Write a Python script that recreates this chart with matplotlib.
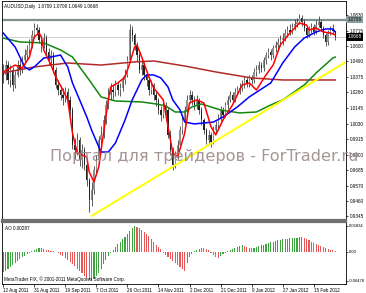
import numpy as np
import matplotlib
matplotlib.use("Agg")
import matplotlib.pyplot as plt

# --- Data ---
closes = [
    1.0388, 1.0461, 1.0351, 1.0425, 1.0314, 1.0388, 1.0461, 1.0425, 1.0498, 1.0535,
    1.0572, 1.0609, 1.0683, 1.0734, 1.0719, 1.0646, 1.0609, 1.0660, 1.0557, 1.0498,
    1.0535, 1.0425, 1.0314, 1.0277, 1.0240, 1.0218, 1.0262, 1.0204, 1.0130, 0.9872,
    0.9835, 0.9909, 0.9761, 0.9835, 0.9724, 0.9614, 0.9467, 0.9540, 0.9688, 0.9761,
    0.9909, 0.9946, 1.0056, 1.0167, 1.0240, 1.0277, 1.0262, 1.0314, 1.0277, 1.0292,
    1.0351, 1.0388, 1.0498, 1.0719, 1.0683, 1.0609, 1.0535, 1.0425, 1.0461, 1.0388,
    1.0351, 1.0277, 1.0314, 1.0240, 1.0204, 1.0130, 1.0093, 1.0167, 1.0130, 0.9946,
    0.9835, 0.9724, 0.9798, 0.9872, 0.9982, 1.0056, 1.0130, 1.0204, 1.0240, 1.0204,
    1.0167, 1.0204, 1.0130, 1.0056, 0.9982, 0.9909, 0.9946, 0.9894, 0.9982, 1.0019,
    1.0071, 1.0130, 1.0093, 1.0167, 1.0204, 1.0240, 1.0204, 1.0262, 1.0277, 1.0292,
    1.0314, 1.0351, 1.0322, 1.0366, 1.0351, 1.0410, 1.0425, 1.0461, 1.0439, 1.0498,
    1.0535, 1.0557, 1.0535, 1.0587, 1.0609, 1.0631, 1.0646, 1.0660, 1.0697, 1.0719,
    1.0705, 1.0742, 1.0764, 1.0778, 1.0808, 1.0778, 1.0734, 1.0683, 1.0719, 1.0742,
    1.0705, 1.0756, 1.0778, 1.0734, 1.0683, 1.0631, 1.0697, 1.0719, 1.0709, 1.0668,
]
first_open = 1.0420
highs = [
    1.0470, 1.0495, 1.0490, 1.0460, 1.0450, 1.0420, 1.0500, 1.0510, 1.0530, 1.0580,
    1.0610, 1.0650, 1.0720, 1.0770, 1.0765, 1.0740, 1.0670, 1.0700, 1.0680, 1.0590,
    1.0570, 1.0560, 1.0450, 1.0350, 1.0310, 1.0290, 1.0300, 1.0290, 1.0230, 1.0150,
    0.9920, 0.9960, 0.9930, 0.9880, 0.9860, 0.9750, 0.9630, 0.9600, 0.9720, 0.9800,
    0.9940, 1.0010, 1.0090, 1.0200, 1.0290, 1.0330, 1.0320, 1.0350, 1.0340, 1.0330,
    1.0380, 1.0430, 1.0530, 1.0760, 1.0750, 1.0700, 1.0630, 1.0560, 1.0500, 1.0480,
    1.0420, 1.0370, 1.0350, 1.0330, 1.0270, 1.0220, 1.0160, 1.0200, 1.0190, 1.0150,
    0.9980, 0.9860, 0.9830, 0.9910, 1.0010, 1.0090, 1.0160, 1.0240, 1.0280, 1.0270,
    1.0230, 1.0240, 1.0220, 1.0150, 1.0070, 1.0000, 0.9980, 0.9970, 1.0010, 1.0050,
    1.0100, 1.0160, 1.0150, 1.0190, 1.0230, 1.0270, 1.0260, 1.0290, 1.0310, 1.0330,
    1.0350, 1.0380, 1.0370, 1.0390, 1.0390, 1.0440, 1.0460, 1.0490, 1.0480, 1.0520,
    1.0560, 1.0590, 1.0580, 1.0610, 1.0640, 1.0660, 1.0680, 1.0700, 1.0730, 1.0750,
    1.0760, 1.0770, 1.0800, 1.0810, 1.0840, 1.0830, 1.0800, 1.0750, 1.0750, 1.0770,
    1.0760, 1.0790, 1.0820, 1.0790, 1.0750, 1.0700, 1.0720, 1.0750, 1.0760, 1.0709,
]
lows = [
    1.0330, 1.0350, 1.0320, 1.0300, 1.0270, 1.0290, 1.0370, 1.0390, 1.0400, 1.0470,
    1.0500, 1.0540, 1.0590, 1.0660, 1.0690, 1.0620, 1.0560, 1.0590, 1.0530, 1.0460,
    1.0470, 1.0400, 1.0290, 1.0240, 1.0200, 1.0170, 1.0190, 1.0160, 1.0090, 0.9840,
    0.9770, 0.9800, 0.9720, 0.9700, 0.9690, 0.9570, 0.9380, 0.9420, 0.9510, 0.9650,
    0.9730, 0.9870, 0.9920, 1.0030, 1.0140, 1.0200, 1.0210, 1.0230, 1.0240, 1.0230,
    1.0270, 1.0320, 1.0370, 1.0480, 1.0640, 1.0570, 1.0490, 1.0400, 1.0390, 1.0350,
    1.0310, 1.0240, 1.0250, 1.0200, 1.0160, 1.0100, 1.0050, 1.0070, 1.0090, 0.9920,
    0.9800, 0.9690, 0.9700, 0.9770, 0.9850, 0.9950, 1.0030, 1.0110, 1.0180, 1.0170,
    1.0130, 1.0140, 1.0100, 1.0020, 0.9950, 0.9880, 0.9880, 0.9860, 0.9880, 0.9960,
    1.0000, 1.0050, 1.0070, 1.0080, 1.0140, 1.0190, 1.0180, 1.0190, 1.0240, 1.0250,
    1.0270, 1.0290, 1.0300, 1.0300, 1.0320, 1.0330, 1.0380, 1.0400, 1.0410, 1.0420,
    1.0470, 1.0510, 1.0500, 1.0510, 1.0560, 1.0580, 1.0600, 1.0610, 1.0640, 1.0670,
    1.0680, 1.0690, 1.0720, 1.0740, 1.0760, 1.0750, 1.0710, 1.0660, 1.0670, 1.0700,
    1.0680, 1.0690, 1.0740, 1.0710, 1.0660, 1.0600, 1.0610, 1.0680, 1.0690, 1.0649,
]

# moving averages, sampled along the curves (bar index, price)
ma_fast_x = [0, 5, 8, 11, 13, 15, 16, 17, 20, 22, 25, 27, 29, 31, 33, 35, 36, 38, 40, 41,
             43, 44, 45, 48, 51, 53, 55, 56, 58, 61, 63, 66, 67, 69, 71, 73, 76, 78, 81,
             84, 87, 89, 92, 96, 100, 103, 106, 110, 113, 116, 120, 124, 127, 128, 131,
             134, 137, 139]
ma_fast_y = [1.0410, 1.0461, 1.0439, 1.0520, 1.0668, 1.0697, 1.0668, 1.0572, 1.0461,
             1.0373, 1.0277, 1.0204, 0.9960, 0.9813, 0.9798, 0.9783, 0.9673, 0.9599,
             0.9710, 0.9835, 1.0078, 1.0204, 1.0299, 1.0329, 1.0373, 1.0476, 1.0594,
             1.0609, 1.0520, 1.0373, 1.0292, 1.0226, 1.0204, 1.0005, 0.9813, 0.9783,
             0.9960, 1.0182, 1.0204, 1.0182, 1.0005, 0.9946, 1.0056, 1.0167, 1.0314,
             1.0329, 1.0277, 1.0388, 1.0461, 1.0609, 1.0697, 1.0771, 1.0756, 1.0719,
             1.0734, 1.0705, 1.0697, 1.0683]
ma_mid_x = [0, 5, 9, 11, 13, 17, 20, 24, 27, 29, 32, 35, 37, 40, 41, 44, 47, 51, 54, 56,
            58, 60, 63, 66, 69, 71, 74, 76, 80, 84, 88, 92, 98, 103, 112, 117, 122, 126,
            131, 135, 138, 139]
ma_mid_y = [1.0697, 1.0594, 1.0447, 1.0425, 1.0447, 1.0513, 1.0520, 1.0535, 1.0447,
            1.0329, 1.0204, 1.0078, 0.9982, 0.9858, 0.9820, 0.9820, 0.9887, 1.0056,
            1.0204, 1.0277, 1.0351, 1.0388, 1.0388, 1.0366, 1.0299, 1.0204, 1.0130,
            1.0041, 1.0027, 1.0034, 1.0041, 1.0078, 1.0152, 1.0226, 1.0329, 1.0476,
            1.0594, 1.0660, 1.0705, 1.0727, 1.0727, 1.0705]
ma_slow_x = [0, 7, 17, 24, 29, 32, 36, 41, 47, 58, 64, 68, 72, 76, 79, 83, 87, 91, 99,
             106, 112, 117, 126, 131, 138, 139]
ma_slow_y = [1.0660, 1.0631, 1.0624, 1.0572, 1.0520, 1.0447, 1.0351, 1.0226, 1.0196,
             1.0189, 1.0174, 1.0160, 1.0115, 1.0115, 1.0152, 1.0174, 1.0152, 1.0130,
             1.0108, 1.0115, 1.0167, 1.0204, 1.0314, 1.0403, 1.0513, 1.0520]
ma_long_x = [0, 13, 27, 41, 55, 63, 76, 89, 104, 117, 139]
ma_long_y = [1.0403, 1.0447, 1.0476, 1.0461, 1.0484, 1.0491, 1.0454, 1.0410, 1.0366,
             1.0351, 1.0351]

trend_x = [37, 143.5]
trend_y = [0.9349, 1.0484]

level_line = 1.0796
bid = 1.0668

price_ticks = [1.0830, 1.0715, 1.0600, 1.0490, 1.0375, 1.0260, 1.0145, 1.0030,
               0.9915, 0.9800, 0.9685, 0.9570, 0.9460, 0.9345]
price_labels = ["1.0830", "1.0715", "1.0600", "1.0490", "1.0375", "1.0260", "1.0145",
                "1.0030", "0.9915", "0.9800", "0.9685", "0.9570", "0.9460", "0.9345"]

ao = [
    -0.0448, -0.0426, -0.0381, -0.0336, -0.0291, -0.0246, -0.0202, -0.0157, -0.0112, -0.0090,
    -0.0045, -0.0022, 0.0022, 0.0045, 0.0067, 0.0090, 0.0081, 0.0067, 0.0045, 0.0034,
    0.0022, 0.0011, -0.0011, -0.0034, -0.0067, -0.0101, -0.0134, -0.0179, -0.0224, -0.0269,
    -0.0314, -0.0381, -0.0426, -0.0470, -0.0540, -0.0585, -0.0620, -0.0648, -0.0610, -0.0540,
    -0.0460, -0.0370, -0.0280, -0.0190, -0.0100, -0.0030, 0.0045, 0.0110, 0.0180, 0.0230,
    0.0290, 0.0340, 0.0400, 0.0470, 0.0530, 0.0583, 0.0560, 0.0535, 0.0495, 0.0450,
    0.0405, 0.0360, 0.0295, 0.0225, 0.0160, 0.0110, 0.0065, -0.0020, -0.0067, -0.0112,
    -0.0157, -0.0202, -0.0246, -0.0291, -0.0336, -0.0381, -0.0426, -0.0250, -0.0112, -0.0045,
    0.0022, 0.0045, 0.0067, 0.0095, 0.0090, 0.0067, 0.0034, -0.0022, -0.0067, -0.0112,
    -0.0134, -0.0090, -0.0056, -0.0022, 0.0022, 0.0045, 0.0067, 0.0090, 0.0112, 0.0134,
    0.0157, 0.0134, 0.0112, 0.0090, 0.0078, 0.0090, 0.0112, 0.0134, 0.0146, 0.0157,
    0.0179, 0.0202, 0.0213, 0.0224, 0.0246, 0.0258, 0.0269, 0.0280, 0.0291, 0.0296,
    0.0302, 0.0307, 0.0314, 0.0318, 0.0323, 0.0327, 0.0314, 0.0291, 0.0258, 0.0224,
    0.0202, 0.0179, 0.0157, 0.0123, 0.0101, 0.0078, 0.0056, 0.0045, 0.0034, 0.00287,
]
ao_ticks = [0.05834, 0.0, -0.06478]
ao_labels = ["0.05834", "0.00", "-0.06478"]

date_pos = [0, 13, 26, 39, 52, 65, 78, 91, 104, 117, 130]
date_labels = ["12 Aug 2011", "31 Aug 2011", "19 Sep 2011", "7 Oct 2011", "26 Oct 2011",
               "14 Nov 2011", "2 Dec 2011", "21 Dec 2011", "9 Jan 2012", "27 Jan 2012",
               "15 Feb 2012"]

# --- Figure ---
plt.rcParams["font.family"] = ["Liberation Sans", "DejaVu Sans"]
FS = 3.3
W, H = 366, 293
fig = plt.figure(figsize=(W / 100, H / 100), dpi=100)
ax = fig.add_axes([2 / W, 1 - 220 / H, 344 / W, 219 / H])
ax2 = fig.add_axes([2 / W, 1 - 284 / H, 344 / W, 62 / H])

n = len(closes)
idx = np.arange(n)
opens = [first_open] + closes[:-1]

# candles
ax.vlines(idx, lows, highs, color="#404040", lw=0.6, zorder=2)
body_lo = np.minimum(opens, closes)
body_h = np.abs(np.array(closes) - np.array(opens))
body_col = ["#909090" if c >= o else "#202020" for o, c in zip(opens, closes)]
ax.bar(idx, body_h, bottom=body_lo, width=0.55, color=body_col, lw=0, zorder=2)

ax.plot(ma_long_x, ma_long_y, color="#b22a2a", lw=1.1, zorder=3)
ax.plot(ma_slow_x, ma_slow_y, color="#118811", lw=1.1, zorder=3)
ax.plot(ma_mid_x, ma_mid_y, color="#0000ff", lw=1.1, zorder=4)
ax.plot(ma_fast_x, ma_fast_y, color="#ff0000", lw=1.1, zorder=5)
ax.plot(trend_x, trend_y, color="#ffff00", lw=1.4, zorder=3)

ax.axhline(level_line, color="#7f9090", lw=1.6, zorder=1)
ax.axhline(bid, color="#c8c8c8", lw=0.6, zorder=1)

ax.set_xlim(-0.5, 143.5)
ax.set_ylim(0.9319, 1.0933)
ax.set_xticks([])
ax.yaxis.tick_right()
ax.set_yticks(price_ticks)
ax.set_yticklabels(price_labels)
ax.tick_params(axis="y", labelsize=FS, length=1.5, width=0.5, pad=1.0, colors="black")

for s in ["left", "right", "top"]:
    ax.spines[s].set_linewidth(0.6)
ax.spines["bottom"].set_color("#707070")
ax.spines["bottom"].set_linewidth(1.6)

# highlighted price labels
ax.text(1.004, level_line, "1.0796", transform=ax.get_yaxis_transform(), fontsize=FS,
        va="center", ha="left", color="black",
        bbox=dict(boxstyle="square,pad=0.25", fc="#8c9c9c", ec="none"))
ax.text(1.004, bid, "1.0668", transform=ax.get_yaxis_transform(), fontsize=FS,
        va="center", ha="left", color="white",
        bbox=dict(boxstyle="square,pad=0.25", fc="black", ec="none"))

ax.text(0.006, 0.985, "AUDUSD,Daily  1.0709 1.0709 1.0649 1.0668", transform=ax.transAxes,
        fontsize=FS, va="top", ha="left")

# watermark
fig.text(50 / W, 1 - 156 / H, "Портал для трейдеров - ForTrader.ru", fontsize=11.6,
         family="DejaVu Sans", color="#9c8a8a", alpha=0.9, va="center", ha="left", zorder=10)

# --- AO panel ---
ao_arr = np.array(ao)
diff = np.diff(ao_arr, prepend=ao_arr[0] - 1)
ao_col = ["#3ea43e" if d > 0 else "#e85656" for d in diff]
ax2.bar(idx, ao_arr, width=0.45, color=ao_col, lw=0)
ax2.set_xlim(-0.5, 143.5)
ax2.set_ylim(-0.0715, 0.0665)
ax2.yaxis.tick_right()
ax2.set_yticks(ao_ticks)
ax2.set_yticklabels(ao_labels)
ax2.tick_params(axis="y", labelsize=3.0, length=1.5, width=0.5, pad=0.6)
ax2.set_xticks(date_pos)
ax2.set_xticklabels(date_labels, ha="left")
ax2.tick_params(axis="x", labelsize=FS, length=2, width=0.5, pad=0.8)
for s in ["left", "right", "bottom"]:
    ax2.spines[s].set_linewidth(0.6)
ax2.spines["top"].set_color("#707070")
ax2.spines["top"].set_linewidth(1.6)

ax2.text(0.008, 0.93, "AO 0.00287", transform=ax2.transAxes, fontsize=FS, va="top")
ax2.text(0.006, 0.03, "MetaTrader FIX, \u00a9 2001-2011 MetaQuotes Software Corp.",
         transform=ax2.transAxes, fontsize=FS, va="bottom")

fig.savefig("out.png", dpi=100)
